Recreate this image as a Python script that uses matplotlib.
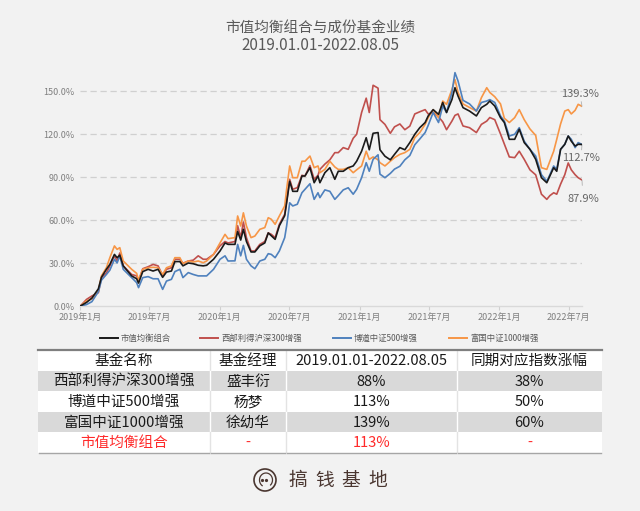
import numpy as np
import pandas as pd
import matplotlib
matplotlib.use("Agg")
import matplotlib.pyplot as plt
from matplotlib.lines import Line2D
from matplotlib.patches import Rectangle, Circle

plt.rcParams['font.family'] = ['Noto Sans CJK SC', 'DejaVu Sans']

# ---- data (cumulative return, %) ----
dates = [
    "2019-01-02", "2019-01-18", "2019-02-01", "2019-02-18", "2019-02-26", "2019-03-11", "2019-03-20", "2019-04-01", "2019-04-08", "2019-04-15",
    "2019-04-24", "2019-05-16", "2019-05-29", "2019-06-03", "2019-06-14", "2019-06-28", "2019-07-11", "2019-07-24", "2019-08-05", "2019-08-15",
    "2019-08-28", "2019-09-06", "2019-09-19", "2019-09-27", "2019-10-11", "2019-10-24", "2019-11-06", "2019-11-19", "2019-11-28", "2019-12-16",
    "2020-01-02", "2020-01-15", "2020-01-23", "2020-02-10", "2020-02-17", "2020-02-25", "2020-03-03", "2020-03-11", "2020-03-23", "2020-04-02",
    "2020-04-15", "2020-04-28", "2020-05-07", "2020-05-15", "2020-05-25", "2020-06-05", "2020-06-19", "2020-06-24", "2020-07-02", "2020-07-10",
    "2020-07-22", "2020-08-03", "2020-08-11", "2020-08-24", "2020-09-04", "2020-09-14",
    "2020-09-19", "2020-10-02", "2020-10-15", "2020-10-28", "2020-11-06", "2020-11-19", "2020-12-02", "2020-12-15", "2020-12-24", "2021-01-06",
    "2021-01-18", "2021-01-26", "2021-02-05", "2021-02-18", "2021-02-23", "2021-03-08", "2021-03-22", "2021-04-02", "2021-04-16", "2021-04-29",
    "2021-05-12", "2021-05-25", "2021-06-07", "2021-06-21", "2021-06-29", "2021-07-12", "2021-07-26", "2021-08-06", "2021-08-16", "2021-08-30",
    "2021-09-07", "2021-09-15", "2021-09-28", "2021-10-15", "2021-11-02", "2021-11-15", "2021-11-29", "2021-12-07", "2021-12-20", "2022-01-04",
    "2022-01-14", "2022-01-27", "2022-02-10", "2022-02-22", "2022-03-07", "2022-03-22", "2022-04-06", "2022-04-21", "2022-05-05", "2022-05-13",
    "2022-05-23", "2022-05-31", "2022-06-10", "2022-06-21", "2022-06-30", "2022-07-08", "2022-07-18", "2022-07-26", "2022-08-05",
]

combo = [
    0, 2.5, 5.5, 12, 20, 25.6, 29, 36, 33.7, 35.5,
    28, 21, 19, 16, 24, 25.6, 24.4, 25.6, 20, 23.7,
    24.4, 31, 31, 28, 30, 29.5, 28.4, 28, 28.4, 32.6,
    38.4, 44, 43, 43, 52, 46, 53.5, 45, 37.7, 37.7,
    42, 44, 51, 49, 46.5, 56, 63, 72, 87, 80,
    80, 90.7, 90.7, 96.5, 86, 90.7,
    86, 93, 96.5, 88.4, 94, 94, 96.5, 97.7, 101, 108,
    117.4, 109, 120.5, 121, 109, 104.5, 102, 105.8, 110.5, 109,
    114, 119.8, 124.4, 128, 132.6, 137, 133.7, 142, 135, 144,
    152.3, 146.5, 138.4, 136, 132.6, 138.4, 140.7, 143, 139.5, 131.4,
    128, 116.3, 116.3, 123.3, 114, 109.3, 102.3, 89.5, 86, 90.7,
    96.5, 94, 109.3, 112.8, 118.6, 115, 111.6, 112.8, 112.7,
]

xibu300 = [
    0, 4.6, 7, 9.3, 19.8, 23, 28, 35, 31.4, 37,
    28, 22, 21, 17.4, 26, 27.4, 29, 28, 21.4, 25.6,
    26.7, 32.6, 32.6, 29.8, 31.4, 32, 35, 32.6, 32.6, 36,
    42, 45, 44, 45, 56, 47.7, 58.6, 47.7, 38.4, 38.4,
    43, 45, 51, 50, 47.7, 57, 64, 73, 88.4, 81.4,
    82.6, 91.2, 90.7, 98, 88.4, 91.2,
    95.3, 99, 102, 107, 107, 110.5, 109.3, 117, 119.8, 135,
    145, 135, 154, 152, 130, 126.7, 120.5, 125, 127, 123,
    125.5, 134, 135.5, 137, 134, 135, 132, 128.5, 123, 129,
    133, 134, 125.6, 124.4, 121, 126.7, 129, 131.5, 130, 120,
    113, 104, 103.5, 108, 102.3, 95, 91.5, 78, 74.4, 77,
    79, 78, 85, 91.6, 99.8, 95, 91.6, 89.5, 87.9,
]

bodao500 = [
    0, 1, 3, 10, 18, 22, 25, 32.6, 30, 35,
    25.6, 19.8, 16.3, 12.8, 19.8, 20.5, 19, 19, 11.6, 17.4,
    18.6, 24, 25.6, 19.8, 23.3, 22, 21, 21, 21, 25.6,
    32.6, 35, 31.4, 31.5, 43, 35, 42.3, 32.6, 28, 26,
    31.4, 32.6, 36.5, 36, 33.7, 38.4, 47.7, 55.8, 72, 69.8,
    71, 79, 81.4, 85.3, 74.4, 79,
    75.6, 81, 80, 74.4, 77, 81, 82.5, 78, 81.4, 89.5,
    100, 94, 102.3, 105.5, 92, 89.5, 92.5, 95.5, 97.5, 102,
    105, 112.5, 116.5, 121, 126, 135, 128, 139.5, 135, 149,
    162.8, 157, 143.5, 141, 136, 142, 143, 144, 142, 132.6,
    129, 118.6, 119.8, 124.4, 115, 109.3, 104.6, 91.6, 87, 91.6,
    97.7, 95.3, 109.3, 112.8, 118.6, 116.3, 110.5, 114, 112.7,
]

fuguo1000 = [
    0, 3.5, 5, 10.5, 21, 26.7, 33.7, 41.9, 39.5, 40.7,
    31.4, 25.6, 22.8, 18, 25.6, 26.7, 27, 26.7, 22, 26.7,
    28, 33.7, 33.7, 29.5, 31.4, 30.7, 31.4, 30.2, 31.4, 36,
    44, 50, 47, 47.7, 62.8, 55.8, 65, 55.8, 47.7, 48.8,
    53.5, 54.7, 61.6, 60.5, 57, 62.8, 69.8, 81.4, 97.7, 89.5,
    89.5, 101, 101, 104.6, 96.5, 97.7,
    93, 95.3, 101, 97, 95.3, 95.3, 96.5, 93, 95, 97.7,
    108, 102.3, 104, 102, 100, 97.7, 101, 103.5, 105.8, 107,
    109.3, 117.4, 121, 126.7, 131.4, 137, 131.4, 143, 140.7, 151,
    158, 149, 141, 138.5, 136, 145.3, 152.3, 149, 146, 141,
    131, 128, 131.4, 137, 130, 123.5, 119, 96.5, 95.3, 101,
    108, 116.3, 127, 136, 137, 134, 136.5, 140.7, 139.3,
]

series_names = ["市值均衡组合", "西部利得沪深300增强", "博道中证500增强", "富国中证1000增强"]
series_colors = ["#1a1a1a", "#c0504d", "#4f81bd", "#f79646"]

tick_dates = ["2019-01-01", "2019-07-01", "2020-01-01", "2020-07-01",
              "2021-01-01", "2021-07-01", "2022-01-01", "2022-07-01"]
tick_labels = ["2019年1月", "2019年7月", "2020年1月", "2020年7月",
               "2021年1月", "2021年7月", "2022年1月", "2022年7月"]
y_ticks = [0, 30, 60, 90, 120, 150]

table_header = ["基金名称", "基金经理", "2019.01.01-2022.08.05", "同期对应指数涨幅"]
table_rows = [
    ["西部利得沪深300增强", "盛丰衍", "88%", "38%"],
    ["博道中证500增强", "杨梦", "113%", "50%"],
    ["富国中证1000增强", "徐幼华", "139%", "60%"],
    ["市值均衡组合", "-", "113%", "-"],
]

BG = "#f2f2f2"
W, H = 640, 511

fig = plt.figure(figsize=(6.4, 5.11), dpi=100, facecolor=BG)

# overlay in pixel coords for table / legend / logo
ov = fig.add_axes([0, 0, 1, 1], zorder=0)
ov.set_xlim(0, W)
ov.set_ylim(H, 0)
ov.axis("off")
ov.patch.set_alpha(0)

ax = fig.add_axes([80 / W, (H - 306) / H, (582 - 80) / W, (306 - 69.5) / H], zorder=2)
ax.patch.set_alpha(0)

x = pd.to_datetime(dates)
all_series = [combo, xibu300, bodao500, fuguo1000]
zorders = [5, 3, 4, 3]
for vals, name, col, zo in zip(all_series, series_names, series_colors, zorders):
    ax.plot(x, vals, color=col, lw=1.2, label=name, zorder=zo, solid_joinstyle="round")

ax.set_xlim(pd.Timestamp("2019-01-01"), pd.Timestamp("2022-08-05"))
ax.set_ylim(0, 165)
ax.set_yticks(y_ticks)
ax.set_yticklabels([f"{v:.1f}%" for v in y_ticks])
ax.set_xticks(pd.to_datetime(tick_dates))
ax.set_xticklabels(tick_labels)
for yv in y_ticks[1:]:
    ax.axhline(yv, color="#d0d0d0", lw=0.9, ls=(0, (5, 3)), zorder=1)
for s in ["top", "right", "left"]:
    ax.spines[s].set_visible(False)
ax.spines["bottom"].set_color("#d9d9d9")
ax.spines["bottom"].set_linewidth(1)
ax.tick_params(axis="y", length=0, pad=4, labelsize=6.5, labelcolor="#7f7f7f")
ax.tick_params(axis="x", length=3, color="#d0d0d0", pad=2, labelsize=6.5, labelcolor="#7f7f7f")

# end labels
end = x[-1]
for vals, off in [(fuguo1000, (-1.5, 9)), (bodao500, (-0.7, -9.5)), (xibu300, (0.7, -13.5))]:
    ax.annotate(f"{vals[-1]:.1f}%", xy=(end, vals[-1]), xytext=off, textcoords="offset points",
                ha="center", va="center", fontsize=8, color="#666666", annotation_clip=False,
                arrowprops=dict(arrowstyle="-", color="#b0b0b0", lw=0.6, shrinkA=4, shrinkB=0))

# titles
fig.text(0.5, 1 - 28 / H, "市值均衡组合与成份基金业绩", ha="center", va="center", fontsize=10.5, color="#595959")
fig.text(0.5, 1 - 46 / H, "2019.01.01-2022.08.05", ha="center", va="center", fontsize=11, color="#595959")

# legend drawn by hand at the reference positions
leg_x = [100, 200, 333, 449]
for lx, name, col in zip(leg_x, series_names, series_colors):
    ov.add_line(Line2D([lx, lx + 18], [338, 338], color=col, lw=1.4))
    ov.text(lx + 21, 338, name, fontsize=6, color="#595959", va="center", ha="left")

# table
col_edges = [38, 210, 286, 457, 602]
row_edges = [350.5, 371, 391.5, 412, 432.5, 453]
row_fill = ["#ffffff", "#d9d9d9", "#ffffff", "#d9d9d9", "#ffffff"]
cells = [table_header] + table_rows
for r, row in enumerate(cells):
    y0, y1 = row_edges[r], row_edges[r + 1]
    ov.add_patch(Rectangle((col_edges[0], y0), col_edges[-1] - col_edges[0], y1 - y0,
                           facecolor=row_fill[r], edgecolor="none"))
    sep = "#ffffff" if row_fill[r] != "#ffffff" else "#e3e3e3"
    for cx in col_edges[1:-1]:
        ov.plot([cx, cx], [y0, y1], color=sep, lw=1)
    txt_col = "#ff2a2a" if r == len(cells) - 1 else "#1a1a1a"
    for c, val in enumerate(row):
        xc = (col_edges[c] + col_edges[c + 1]) / 2
        ov.text(xc, (y0 + y1) / 2 + 0.5, val, ha="center", va="center", fontsize=10.5, color=txt_col)
ov.plot([col_edges[0], col_edges[-1]], [row_edges[0], row_edges[0]], color="#7f7f7f", lw=1.6)
for c in range(4):
    ov.plot([col_edges[c] + 1, col_edges[c + 1] - 1], [row_edges[-1], row_edges[-1]], color="#a6a6a6", lw=1)

# logo
brown = "#4a3630"
ov.add_patch(Circle((265, 480), 11, facecolor="none", edgecolor=brown, lw=1.2))
t = np.linspace(0, np.pi * 1.55, 40)
ov.plot(265 + 6.5 * np.cos(t + 2.2) + 1, 481 + 7 * np.sin(t + 2.2) - 1, color=brown, lw=0.9)
ov.plot([262, 266], [480, 480], ls="none", marker="o", ms=1.3, color=brown)
for i, ch in enumerate("搞钱基地"):
    ov.text(298 + i * 26.5, 480.5, ch, ha="center", va="center", fontsize=13.5, color=brown)

fig.savefig("out.png", dpi=100, facecolor=BG)
